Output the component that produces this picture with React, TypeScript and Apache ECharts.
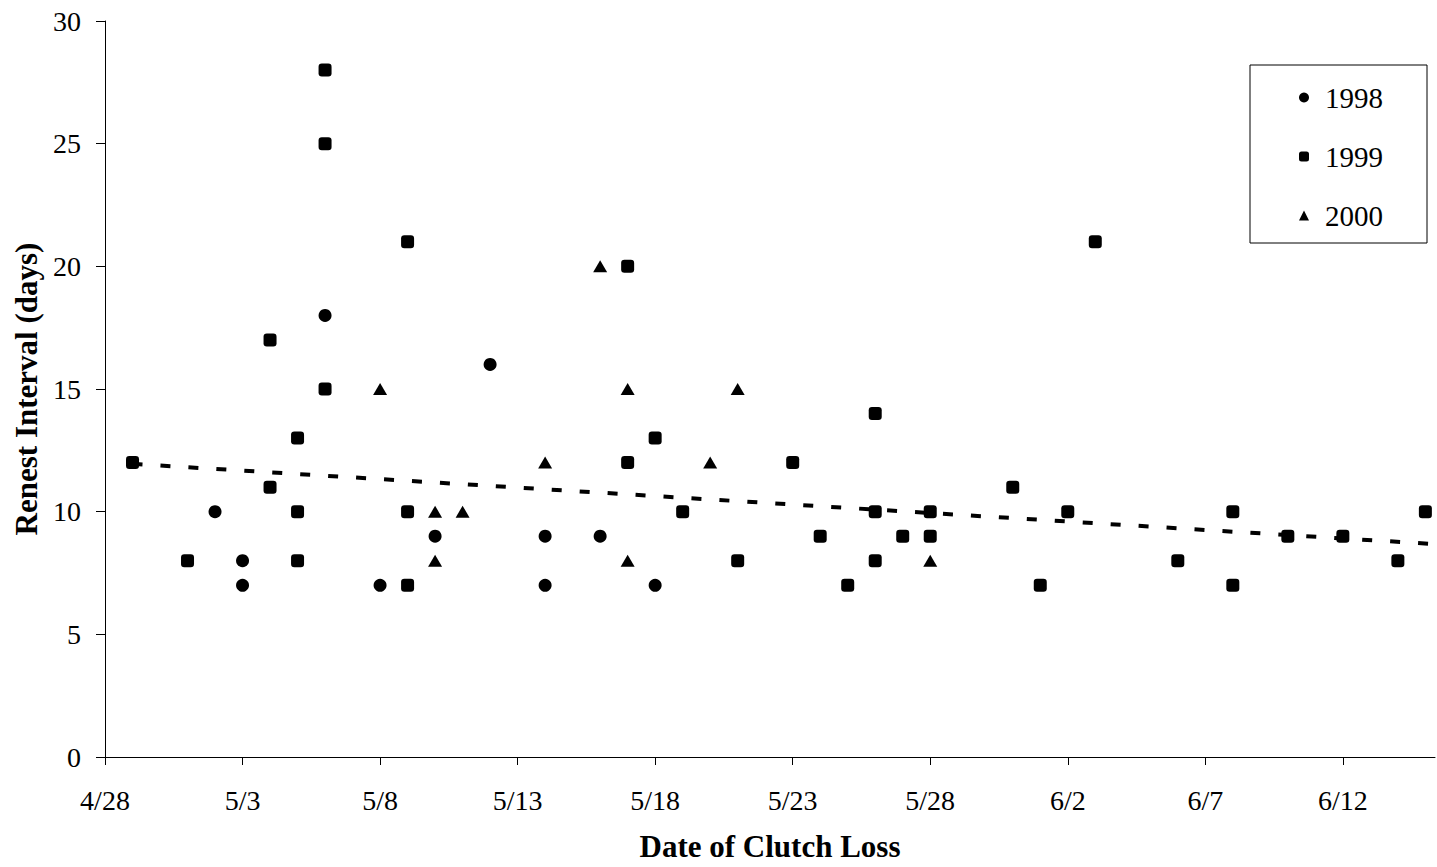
import React, { useEffect, useRef } from 'react';
import * as echarts from 'echarts';

// x values are days after 4/28 (4/28 = 0)
const xTickDays = [0, 5, 10, 15, 20, 25, 30, 35, 40, 45];
const xTickLabels = ['4/28', '5/3', '5/8', '5/13', '5/18', '5/23', '5/28', '6/2', '6/7', '6/12'];
const yTicks = [0, 5, 10, 15, 20, 25, 30];

const seriesNames = ['1998', '1999', '2000'];

const data1998 = [
  [4, 10], [5, 8], [5, 7], [8, 18], [10, 7], [12, 9], [14, 16], [16, 9], [16, 7], [18, 9], [20, 7],
];

const data1999 = [
  [1, 12], [3, 8], [6, 17], [6, 11], [7, 13], [7, 10], [7, 8], [8, 28], [8, 25], [8, 15],
  [11, 21], [11, 10], [11, 7], [19, 20], [19, 12], [20, 13], [21, 10], [23, 8], [25, 12],
  [26, 9], [27, 7], [28, 14], [28, 10], [28, 8], [29, 9], [30, 10], [30, 9], [33, 11],
  [34, 7], [35, 10], [36, 21], [39, 8], [41, 10], [41, 7], [43, 9], [45, 9], [47, 8], [48, 10],
];

const data2000 = [
  [10, 15], [12, 10], [12, 8], [13, 10], [16, 12], [18, 20], [19, 15], [19, 8], [22, 12], [23, 15], [30, 8],
];

// linear trendline endpoints
const trendLine = [
  [1, 11.95],
  [48.3, 8.68],
];

const FONT = "'Liberation Serif', 'Times New Roman', serif";

export default function App() {
  const ref = useRef<HTMLDivElement>(null);

  useEffect(() => {
    if (!ref.current) return;
    const chart = echarts.init(ref.current, null, { renderer: 'svg' });
    const markStyle = { color: '#000', opacity: 1 };
    chart.setOption({
      animation: false,
      backgroundColor: '#fff',
      textStyle: { fontFamily: FONT, color: '#000' },
      grid: { left: 105, right: 2, top: 21, bottom: 107 },
      legend: {
        orient: 'vertical',
        left: 1250,
        top: 65,
        padding: [17.5, 44, 12.5, 49],
        itemGap: 29,
        itemWidth: 10,
        itemHeight: 10,
        borderColor: '#000',
        borderWidth: 1,
        data: seriesNames,
        itemStyle: { opacity: 1, color: '#000' },
        textStyle: {
          fontFamily: FONT,
          fontSize: 29,
          lineHeight: 30,
          color: '#000',
          padding: [0, 0, 0, 11],
        },
      },
      xAxis: {
        type: 'value',
        min: 0,
        max: 48.35,
        splitLine: { show: false },
        axisLine: { show: true, onZero: false, lineStyle: { color: '#000', width: 1 } },
        axisTick: { show: true, customValues: xTickDays, length: 8, lineStyle: { color: '#000' } },
        axisLabel: {
          customValues: xTickDays,
          formatter: (v: number) => {
            const i = xTickDays.indexOf(Math.round(v));
            return i >= 0 ? xTickLabels[i] : '';
          },
          fontFamily: FONT,
          fontSize: 28,
          color: '#000',
          margin: 29,
        },
        name: 'Date of Clutch Loss',
        nameLocation: 'middle',
        nameGap: 74,
        nameTextStyle: { fontFamily: FONT, fontSize: 31, fontWeight: 'bold', color: '#000' },
      },
      yAxis: {
        type: 'value',
        min: yTicks[0],
        max: yTicks[yTicks.length - 1],
        interval: 5,
        splitLine: { show: false },
        axisLine: { show: true, lineStyle: { color: '#000', width: 1 } },
        axisTick: { show: true, length: 9, lineStyle: { color: '#000' } },
        axisLabel: { fontFamily: FONT, fontSize: 28, color: '#000', margin: 24 },
        name: 'Renest Interval (days)',
        nameLocation: 'middle',
        nameGap: 55,
        nameTextStyle: { fontFamily: FONT, fontSize: 31, fontWeight: 'bold', color: '#000' },
      },
      series: [
        {
          name: seriesNames[0],
          type: 'scatter',
          symbol: 'circle',
          symbolSize: 13,
          data: data1998,
          itemStyle: markStyle,
          z: 3,
        },
        {
          name: seriesNames[1],
          type: 'scatter',
          symbol: 'roundRect',
          symbolSize: 13,
          data: data1999,
          itemStyle: markStyle,
          z: 3,
        },
        {
          name: seriesNames[2],
          type: 'scatter',
          symbol: 'triangle',
          symbolSize: [14, 12],
          data: data2000,
          itemStyle: markStyle,
          z: 3,
        },
        {
          name: 'Linear trend',
          type: 'line',
          data: trendLine,
          symbol: 'none',
          showSymbol: false,
          silent: true,
          lineStyle: { color: '#000', width: 4, type: [10, 18] },
          z: 2,
        },
      ],
    });
    return () => chart.dispose();
  }, []);

  return (
    <div
      ref={ref}
      style={{ position: 'absolute', left: 0, top: 0, width: 1437, height: 867, background: '#fff' }}
    />
  );
}
